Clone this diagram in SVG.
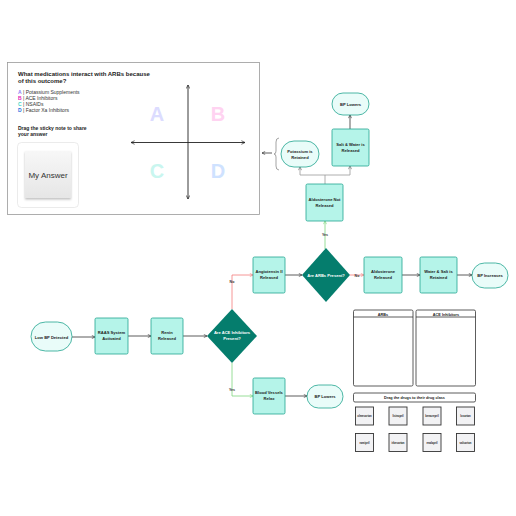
<svg xmlns="http://www.w3.org/2000/svg" width="516" height="516" viewBox="0 0 516 516">
<defs>
<marker id="ad" viewBox="0 0 10 10" refX="9" refY="5" markerWidth="5" markerHeight="5" orient="auto-start-reverse"><path d="M1,1 L9,5 L1,9" fill="none" stroke="#333" stroke-width="1.5"/></marker>
<marker id="ag" viewBox="0 0 10 10" refX="9" refY="5" markerWidth="5" markerHeight="5" orient="auto"><path d="M1,1 L9,5 L1,9" fill="none" stroke="#666" stroke-width="1.5"/></marker>
<marker id="ar" viewBox="0 0 10 10" refX="9" refY="5" markerWidth="5" markerHeight="5" orient="auto"><path d="M1,1 L9,5 L1,9" fill="none" stroke="#f47c7c" stroke-width="1.5"/></marker>
<marker id="agr" viewBox="0 0 10 10" refX="9" refY="5" markerWidth="5" markerHeight="5" orient="auto"><path d="M1,1 L9,5 L1,9" fill="none" stroke="#7ed67e" stroke-width="1.5"/></marker>
<marker id="ax" viewBox="0 0 10 10" refX="9" refY="5" markerWidth="5" markerHeight="5" orient="auto-start-reverse"><path d="M1,1 L9,5 L1,9" fill="none" stroke="#222" stroke-width="1.5"/></marker>
<linearGradient id="sticky" x1="0" y1="0" x2="0" y2="1"><stop offset="0" stop-color="#f7f7f7"/><stop offset="1" stop-color="#e6e6e6"/></linearGradient>
<filter id="sh" x="-20%" y="-20%" width="140%" height="140%"><feDropShadow dx="0" dy="1.5" stdDeviation="1.2" flood-color="#000" flood-opacity="0.25"/></filter>
</defs>
<style>
text{font-family:"Liberation Sans",Arial,sans-serif;}
.proc{fill:#b5f4e9;stroke:#22a58f;stroke-width:0.8;}
.term{fill:#e9fcf9;stroke:#22a58f;stroke-width:0.8;}
.dia{fill:#057d6d;}
.nt{font-size:4.1px;font-weight:bold;fill:#222;text-anchor:middle;}
.dt{font-size:4.1px;font-weight:bold;fill:#fff;text-anchor:middle;}
.cd{stroke:#333;stroke-width:0.8;fill:none;}
.cg{stroke:#999;stroke-width:0.8;fill:none;}
.cr{stroke:#f47c7c;stroke-width:0.8;fill:none;}
.cgr{stroke:#7ed67e;stroke-width:0.8;fill:none;}
.lab{font-size:3.6px;font-weight:bold;fill:#333;text-anchor:middle;}
.opt{font-size:5px;fill:#333;}
.big{font-size:20px;font-weight:bold;text-anchor:middle;}
.box{fill:#fff;stroke:#333;stroke-width:0.8;}
.card{fill:#f2f2f4;stroke:#333;stroke-width:0.9;}
.ct{font-size:2.7px;font-weight:bold;fill:#222;text-anchor:middle;}
.ht{font-size:3.8px;font-weight:bold;fill:#222;text-anchor:middle;}
</style>

<g id="quiz-panel">
<rect x="7.5" y="62.5" width="252" height="152" fill="#fff" stroke="#999" stroke-width="0.8"/>
<text x="18" y="76" font-size="6" font-weight="bold" fill="#222">What medications interact with ARBs because</text>
<text x="18" y="83" font-size="6" font-weight="bold" fill="#222">of this outcome?</text>
<text x="18" y="94" class="opt"><tspan fill="#8b7cf6" font-weight="bold">A</tspan> | Potassium Supplements</text>
<text x="18" y="100" class="opt"><tspan fill="#e01fb8" font-weight="bold">B</tspan> | ACE Inhibitors</text>
<text x="18" y="106" class="opt"><tspan fill="#3dd6c6" font-weight="bold">C</tspan> | NSAIDs</text>
<text x="18" y="112" class="opt"><tspan fill="#2a6fe0" font-weight="bold">D</tspan> | Factor Xa Inhibitors</text>
<text x="18" y="130" font-size="5" font-weight="bold" fill="#222">Drag the sticky note to share</text>
<text x="18" y="136" font-size="5" font-weight="bold" fill="#222">your answer</text>
<rect x="17.5" y="142.5" width="61" height="65" rx="4" fill="#fff" stroke="#ddd" stroke-width="0.6"/>
<rect x="25" y="151" width="46" height="47" fill="url(#sticky)" filter="url(#sh)"/>
<text x="48" y="178" font-size="8" fill="#333" text-anchor="middle">My Answer</text>
<line x1="188" y1="85" x2="188" y2="199" stroke="#222" stroke-width="0.9" marker-start="url(#ax)" marker-end="url(#ax)"/>
<line x1="131" y1="142.5" x2="245" y2="142.5" stroke="#222" stroke-width="0.9" marker-start="url(#ax)" marker-end="url(#ax)"/>
<text x="157" y="121" class="big" fill="#dcdcff">A</text>
<text x="218" y="121" class="big" fill="#ffd3f1">B</text>
<text x="157" y="178" class="big" fill="#c9f6ef">C</text>
<text x="218" y="178" class="big" fill="#cfe2ff">D</text>
</g>

<g id="connectors">
<line x1="72" y1="337" x2="95" y2="337" class="cd" marker-end="url(#ad)"/>
<line x1="128" y1="336" x2="151" y2="336" class="cd" marker-end="url(#ad)"/>
<line x1="183" y1="336" x2="207" y2="336" class="cd" marker-end="url(#ad)"/>
<polyline points="232,309 232,275 253,275" class="cr" marker-end="url(#ar)"/>
<text x="232" y="283" class="lab">No</text>
<polyline points="232,363 232,396 253,396" class="cgr" marker-end="url(#agr)"/>
<text x="232" y="391" class="lab">Yes</text>
<line x1="285" y1="396" x2="307" y2="396" class="cd" marker-end="url(#ad)"/>
<line x1="285" y1="275" x2="302" y2="275" class="cd" marker-end="url(#ad)"/>
<line x1="350" y1="275" x2="364" y2="275" class="cr" marker-end="url(#ar)"/>
<text x="357" y="276.5" class="lab">No</text>
<line x1="402" y1="275" x2="420" y2="275" class="cd" marker-end="url(#ad)"/>
<line x1="457" y1="275" x2="472" y2="275" class="cd" marker-end="url(#ad)"/>
<line x1="325" y1="249" x2="325" y2="221" class="cgr" marker-end="url(#agr)"/>
<text x="325" y="236" class="lab">Yes</text>
<polyline points="325,184 325,175 300,175 300,167" class="cg" marker-end="url(#ag)"/>
<polyline points="325,175 350,175 350,166" class="cg" marker-end="url(#ag)"/>
<line x1="350" y1="129" x2="350" y2="115" class="cd" marker-end="url(#ad)"/>
<path d="M279,138 Q276,138 276,142 L276,151 Q276,154 274,154 Q276,154 276,157 L276,166 Q276,170 279,170" fill="none" stroke="#666" stroke-width="0.6"/>
<line x1="272" y1="153" x2="262" y2="153" class="cd" marker-end="url(#ad)"/>
</g>

<g id="low-bp-detected"><rect x="31" y="322" width="41" height="29" rx="14.5" class="term"/><text x="51.5" y="338.5" class="nt">Low BP Detected</text></g>
<g id="raas-activated"><rect x="95" y="318" width="33" height="36" rx="1.5" class="proc"/><text x="111.5" y="334" class="nt">RAAS System</text><text x="111.5" y="340" class="nt">Activated</text></g>
<g id="renin-released"><rect x="151" y="318" width="32" height="36" rx="1.5" class="proc"/><text x="167" y="334" class="nt">Renin</text><text x="167" y="340" class="nt">Released</text></g>
<g id="ace-diamond"><polygon points="232,309 257,336 232,363 207,336" class="dia"/><text x="232" y="334" class="dt">Are ACE Inhibitors</text><text x="232" y="340" class="dt">Present?</text></g>
<g id="angiotensin-released"><rect x="253" y="257" width="32" height="36" rx="1.5" class="proc"/><text x="269" y="273" class="nt">Angiotensin II</text><text x="269" y="279" class="nt">Released</text></g>
<g id="arbs-diamond"><polygon points="326,248 350,275 326,302 302,275" class="dia"/><text x="326" y="276.5" class="dt">Are ARBs Present?</text></g>
<g id="aldosterone-released"><rect x="364" y="257" width="38" height="36" rx="1.5" class="proc"/><text x="383" y="273" class="nt">Aldosterone</text><text x="383" y="279" class="nt">Released</text></g>
<g id="water-salt-retained"><rect x="420" y="257" width="37" height="36" rx="1.5" class="proc"/><text x="438.5" y="273" class="nt">Water &amp; Salt is</text><text x="438.5" y="279" class="nt">Retained</text></g>
<g id="bp-increases"><rect x="472" y="263" width="36" height="25" rx="12.5" class="term"/><text x="490" y="276.5" class="nt">BP Increases</text></g>
<g id="blood-vessels-relax"><rect x="253" y="378" width="32" height="36" rx="1.5" class="proc"/><text x="269" y="394" class="nt">Blood Vessels</text><text x="269" y="400" class="nt">Relax</text></g>
<g id="bp-lowers-bottom"><rect x="307" y="385" width="36" height="23" rx="11.5" class="term"/><text x="325" y="397.5" class="nt">BP Lowers</text></g>
<g id="aldosterone-not-released"><rect x="306" y="184" width="37" height="37" rx="1.5" class="proc"/><text x="324.5" y="201" class="nt">Aldosterone Not</text><text x="324.5" y="207" class="nt">Released</text></g>
<g id="potassium-retained"><rect x="281" y="141" width="38" height="26" rx="13" class="term"/><text x="300" y="153" class="nt">Potassium is</text><text x="300" y="159" class="nt">Retained</text></g>
<g id="salt-water-released"><rect x="332" y="129" width="37" height="37" rx="1.5" class="proc"/><text x="350.5" y="146" class="nt">Salt &amp; Water is</text><text x="350.5" y="152" class="nt">Released</text></g>
<g id="bp-lowers-top"><rect x="332" y="93" width="37" height="22" rx="11" class="term"/><text x="350.5" y="105.5" class="nt">BP Lowers</text></g>

<g id="sorting-activity">
<rect x="353.5" y="310" width="59.5" height="76" rx="1.5" class="box"/>
<line x1="353.5" y1="317" x2="413" y2="317" stroke="#333" stroke-width="0.8"/>
<text x="383" y="315.5" class="ht">ARBs</text>
<rect x="416" y="310" width="59.5" height="76" rx="1.5" class="box"/>
<line x1="416" y1="317" x2="475.5" y2="317" stroke="#333" stroke-width="0.8"/>
<text x="446" y="315.5" class="ht">ACE Inhibitors</text>
<rect x="353.5" y="393" width="122" height="9" rx="1.5" class="box"/>
<text x="414.5" y="399" class="ht">Drag the drugs to their drug class</text>
<g id="drug-olmesartan"><rect x="355.5" y="407" width="18" height="18" class="card"/><text x="364.5" y="417" class="ct">olmesartan</text></g>
<g id="drug-lisinopril"><rect x="389" y="407" width="18" height="18" class="card"/><text x="398" y="417" class="ct">lisinopril</text></g>
<g id="drug-benazepril"><rect x="423" y="407" width="18" height="18" class="card"/><text x="432" y="417" class="ct">benazepril</text></g>
<g id="drug-losartan"><rect x="456.5" y="407" width="18" height="18" class="card"/><text x="465.5" y="417" class="ct">losartan</text></g>
<g id="drug-ramipril"><rect x="355.5" y="433.5" width="18" height="18" class="card"/><text x="364.5" y="443.5" class="ct">ramipril</text></g>
<g id="drug-irbesartan"><rect x="389" y="433.5" width="18" height="18" class="card"/><text x="398" y="443.5" class="ct">irbesartan</text></g>
<g id="drug-enalapril"><rect x="423" y="433.5" width="18" height="18" class="card"/><text x="432" y="443.5" class="ct">enalapril</text></g>
<g id="drug-valsartan"><rect x="456.5" y="433.5" width="18" height="18" class="card"/><text x="465.5" y="443.5" class="ct">valsartan</text></g>
</g>
</svg>
